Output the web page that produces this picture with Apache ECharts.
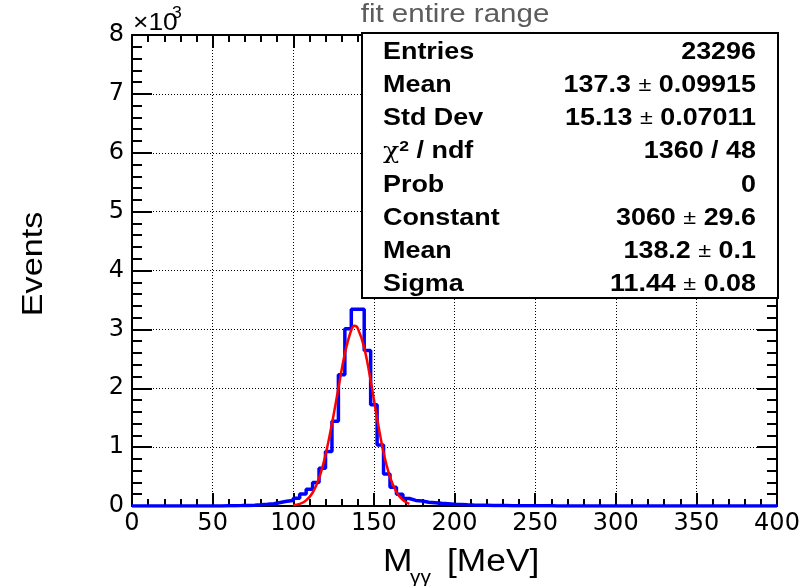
<!DOCTYPE html>
<html>
<head>
<meta charset="utf-8">
<script src="https://cdn.jsdelivr.net/npm/echarts@6/dist/echarts.min.js"></script>
<style>
html, body { margin: 0; padding: 0; background: #fff; }
#chart-area { width: 809px; height: 586px; }
</style>
</head>
<body>
<div id="chart-area"></div>
<script>
// 4 MeV bins from 0 to 400
var binWidth = 4;
var counts = [
    0, 0, 0, 0, 0, 0, 0, 0, 0, 0,
    0, 0, 0, 0, 3, 5, 7, 10, 14, 20,
    28, 38, 60, 80, 95, 130, 205, 285, 400, 640,
    925, 1440, 2230, 3010, 3340, 3340, 2640, 1720, 1035, 545,
    320, 200, 128, 95, 85, 65, 55, 45, 38, 30,
    25, 20, 16, 14, 12, 10, 8, 7, 6, 5,
    4, 4, 3, 3, 3, 2, 2, 2, 2, 1,
    1, 1, 1, 0, 1, 0, 1, 0, 0, 1,
    0, 0, 1, 0, 0, 0, 0, 0, 0, 0,
    0, 0, 0, 0, 0, 0, 0, 0, 0, 0
];

// gaussian fit
var fitX = [100, 104, 108, 112, 116, 120, 124, 128, 132, 136, 138, 140, 144, 148, 152, 156, 160, 164, 168, 172];
var fitY = [12, 36, 95, 225, 470, 865, 1400, 2000, 2590, 2990, 3060, 3020, 2690, 2130, 1490, 910, 495, 235, 100, 36];

var statsNames = ['Entries', 'Mean', 'Std Dev', '{chi|χ}{sup|2} / ndf', 'Prob', 'Constant', 'Mean', 'Sigma'];
var statsValues = ['23296', '137.3 {pm|±} 0.09915', '15.13 {pm|±} 0.07011', '1360 / 48', '0',
    '3060 {pm|±} 29.6', '138.2 {pm|±} 0.1', '11.44 {pm|±} 0.08'];

var font = 'Liberation Sans, Arial, Helvetica, sans-serif';
var tickFont = 'DejaVu Sans, sans-serif';

var histData = counts.map(function(c, i){ return [i * binWidth, c]; });
histData.push([counts.length * binWidth, counts[counts.length - 1]]);

var fitData = fitX.map(function(x, i){ return [x, fitY[i]]; });

function xAxisOpt(pos, labels){
    return {
        type: 'value', position: pos, min: 0, max: 400, interval: 50,
        axisLine: { show: true, onZero: false, lineStyle: { color: '#000', width: 2 } },
        axisTick: { show: true, inside: true, length: 13, lineStyle: { color: '#000', width: 2 } },
        minorTick: { show: true, splitNumber: 5, length: 7, lineStyle: { color: '#000', width: 2 } },
        axisLabel: { show: labels, fontFamily: tickFont, fontSize: 24, color: '#000', margin: 6 },
        splitLine: { show: labels, lineStyle: { color: '#000', type: [1, 2], width: 1 } }
    };
}

function yAxisOpt(pos, labels){
    return {
        type: 'value', position: pos, min: 0, max: 8000, interval: 1000,
        axisLine: { show: true, onZero: false, lineStyle: { color: '#000', width: 2 } },
        axisTick: { show: true, inside: true, length: 20, lineStyle: { color: '#000', width: 2 } },
        minorTick: { show: true, splitNumber: 5, length: 10, lineStyle: { color: '#000', width: 2 } },
        axisLabel: { show: labels, fontFamily: tickFont, fontSize: 24, color: '#000', margin: 8,
            formatter: function(v){ return v / 1000; } },
        splitLine: { show: labels, lineStyle: { color: '#000', type: [1, 2], width: 1 } }
    };
}

// stats box texts
var rowY0 = 52.5, rowStep = 33.2;
var statsGraphic = [{
    type: 'rect', z: 100,
    shape: { x: 362, y: 33, width: 416, height: 265 },
    style: { fill: '#fff', stroke: '#000', lineWidth: 2 }
}];
var richStyle = {
    pm: { fontFamily: font, fontSize: 20, fontWeight: 'normal', color: '#000' },
    chi: { fontFamily: 'DejaVu Serif, serif', fontSize: 23, fontWeight: 'normal', color: '#000' },
    sup: { fontFamily: font, fontSize: 15, fontWeight: 'bold', color: '#000', verticalAlign: 'top', padding: [0, 0, 10, 0] }
};
statsNames.forEach(function(name, i){
    statsGraphic.push({
        type: 'text', z: 101, x: 383, y: rowY0 + i * rowStep, scaleX: 1.17,
        style: { text: name, fontFamily: font, fontSize: 23, fontWeight: 'bold', fill: '#000',
            align: 'left', verticalAlign: 'middle', rich: richStyle }
    });
    statsGraphic.push({
        type: 'text', z: 101, x: 756, y: rowY0 + i * rowStep, scaleX: 1.17,
        style: { text: statsValues[i], fontFamily: font, fontSize: 23, fontWeight: 'bold', fill: '#000',
            align: 'right', verticalAlign: 'middle', rich: richStyle }
    });
});

var otherGraphic = [
    { type: 'text', x: 455, y: 15, scaleX: 1.18,
      style: { text: 'fit entire range', fontFamily: font, fontSize: 25, fill: '#5c5c5c', align: 'center', verticalAlign: 'middle' } },
    { type: 'text', x: 133, y: 23, scaleX: 1.1,
      style: { text: '×10', fontFamily: font, fontSize: 24, fill: '#000', align: 'left', verticalAlign: 'middle' } },
    { type: 'text', x: 172, y: 14, scaleX: 1.1,
      style: { text: '3', fontFamily: font, fontSize: 16, fill: '#000', align: 'left', verticalAlign: 'middle' } },
    { type: 'text', x: 34, y: 264, rotation: Math.PI / 2, scaleX: 1.14,
      style: { text: 'Events', fontFamily: font, fontSize: 30, fill: '#000', align: 'center', verticalAlign: 'middle' } },
    { type: 'text', x: 383, y: 562, scaleX: 1.14,
      style: { text: 'M', fontFamily: font, fontSize: 31, fill: '#000', align: 'left', verticalAlign: 'middle' } },
    { type: 'text', x: 410, y: 578, scaleX: 1.1,
      style: { text: 'γγ', fontFamily: font, fontSize: 19, fill: '#000', align: 'left', verticalAlign: 'middle' } },
    { type: 'text', x: 447, y: 562, scaleX: 1.14,
      style: { text: '[MeV]', fontFamily: font, fontSize: 31, fill: '#000', align: 'left', verticalAlign: 'middle' } }
];

var option = {
    animation: false,
    backgroundColor: '#fff',
    grid: { left: 132, right: 32, top: 35, bottom: 80 },
    xAxis: [ xAxisOpt('bottom', true), xAxisOpt('top', false) ],
    yAxis: [ yAxisOpt('left', true), yAxisOpt('right', false) ],
    series: [
        {
            name: 'hist', type: 'line', step: 'end', xAxisIndex: 0, yAxisIndex: 0,
            data: histData, symbol: 'none',
            lineStyle: { color: '#0000ff', width: 3.5 }, z: 3
        },
        {
            name: 'fit', type: 'line', smooth: 0.4, xAxisIndex: 0, yAxisIndex: 0,
            data: fitData, symbol: 'none',
            lineStyle: { color: '#ff0000', width: 2.5 }, z: 4
        }
    ],
    graphic: statsGraphic.concat(otherGraphic)
};

var chart = echarts.init(document.getElementById('chart-area'));
chart.setOption(option);
</script>
</body>
</html>
